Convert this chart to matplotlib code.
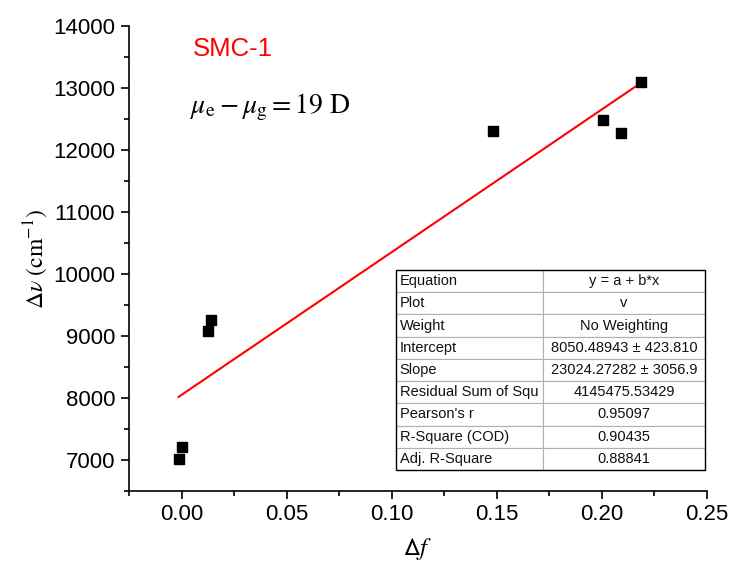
import matplotlib
matplotlib.use("Agg")
import matplotlib.pyplot as plt
import numpy as np
from matplotlib.ticker import MultipleLocator
from matplotlib.patches import Rectangle

plt.rcParams['font.family'] = ['Liberation Sans', 'DejaVu Sans']
plt.rcParams['mathtext.fontset'] = 'stix'

# data
delta_f = [-0.0014, 0.0002, 0.0124, 0.0138, 0.148, 0.2006, 0.209, 0.2186]
delta_nu = [7020, 7210, 9075, 9260, 12305, 12490, 12280, 13090]

intercept = 8050.48943
slope = 23024.27282

table_labels = ["Equation", "Plot", "Weight", "Intercept", "Slope",
                "Residual Sum of Squ", "Pearson's r", "R-Square (COD)", "Adj. R-Square"]
table_values = ["y = a + b*x", "v", "No Weighting", "8050.48943 \u00b1 423.810",
                "23024.27282 \u00b1 3056.9", "4145475.53429", "0.95097", "0.90435", "0.88841"]

fig = plt.figure(figsize=(7.35, 5.69), dpi=100)
ax = fig.add_axes([129/735, 1 - 491/569, 578/735, 465/569])

ax.scatter(delta_f, delta_nu, marker='s', s=60, color='black', zorder=3)
xf = np.array([min(delta_f), max(delta_f)])
ax.plot(xf, intercept + slope*xf, color='red', lw=1.5, zorder=2)

ax.set_xlim(-0.025, 0.25)
ax.set_ylim(6500, 14000)
ax.xaxis.set_major_locator(MultipleLocator(0.05))
ax.xaxis.set_minor_locator(MultipleLocator(0.025))
ax.yaxis.set_major_locator(MultipleLocator(1000))
ax.yaxis.set_minor_locator(MultipleLocator(500))
ax.xaxis.set_major_formatter(matplotlib.ticker.FormatStrFormatter('%.2f'))
ax.spines['top'].set_visible(False)
ax.spines['right'].set_visible(False)
for s in ['left', 'bottom']:
    ax.spines[s].set_linewidth(1.2)
ax.tick_params(which='major', direction='out', length=6, width=1.2, labelsize=16)
ax.tick_params(axis='y', which='major', pad=4)
ax.tick_params(which='minor', direction='out', length=3.5, width=1.2)

ax.set_xlabel(r'$\mathsf{\Delta}\mathit{f}$', fontsize=18, labelpad=8)
ax.set_ylabel(r'$\Delta\nu\ (\mathrm{cm}^{-1})$', fontsize=17, labelpad=2)

ax.text(0.11, 0.95, 'SMC-1', transform=ax.transAxes, color='red', fontsize=18.5,
        va='center', ha='left')
ax.text(0.105, 0.825, r'$\mu_{\mathrm{e}} - \mu_{\mathrm{g}} = 19\ \mathrm{D}$',
        transform=ax.transAxes, fontsize=20, va='center', ha='left')

# fit statistics table
cells = [[a, b] for a, b in zip(table_labels, table_values)]
x0, x1 = (396-129)/578, (705-129)/578
y0, y1 = (491-470)/465, (491-270)/465
tb = ax.table(cellText=cells, bbox=[x0, y0, x1 - x0, y1 - y0],
              colWidths=[(543-396)/309, (705-543)/309])
tb.auto_set_font_size(False)
tb.set_fontsize(10.5)
for (r, c), cell in tb.get_celld().items():
    cell.set_edgecolor('#b0b0b0')
    cell.set_linewidth(0.8)
    cell.get_text().set_ha('left' if c == 0 else 'center')
    cell.get_text().set_color('#111111')
    if c == 0:
        cell.PAD = 0.025
ax.add_patch(Rectangle((x0, y0), x1 - x0, y1 - y0, transform=ax.transAxes,
                       fill=False, edgecolor='black', lw=1, zorder=5, clip_on=False))

fig.savefig('out.png', dpi=100)
